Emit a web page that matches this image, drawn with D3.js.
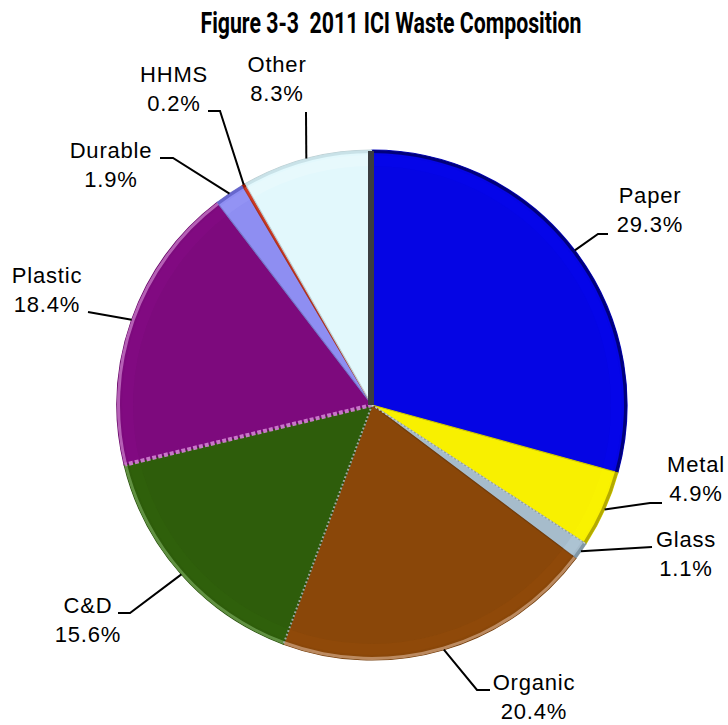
<!DOCTYPE html>
<html>
<head>
<meta charset="utf-8">
<script src="https://cdn.jsdelivr.net/npm/d3@7/dist/d3.min.js"></script>
<style>
  html, body { margin: 0; padding: 0; background: #fff; }
  svg { display: block; }
</style>
</head>
<body>
<script>
// ---- data ----
const categories = ["Paper", "Metal", "Glass", "Organic", "C&D", "Plastic", "Durable", "HHMS", "Other"];
const values = [29.3, 4.9, 1.1, 20.4, 15.6, 18.4, 1.9, 0.2, 8.3];
const valueLabels = ["29.3%", "4.9%", "1.1%", "20.4%", "15.6%", "18.4%", "1.9%", "0.2%", "8.3%"];
const title = "Figure 3-3\u00A0\u00A02011 ICI Waste Composition";

// ---- styles ----
const palette = ["#0505E4", "#F8F000", "#A6BCCB", "#8A4709", "#2E5D0B", "#7D0A7D", "#8E8EF2", "#D03A22", "#E2F8FC"];
const rimPalette = ["#00006A", "#A89E00", "#7A90A0", "#C49670", "#6A9A4C", "#C070C0", "#6060C8", "#901800", "#C4DEE4"];

// ---- layout (label text anchor: centre x, first baseline; leader elbow/end points) ----
const labelLayout = [
  { x: 650, y: 203, leader: [[598, 234], [608, 234]] },
  { x: 696, y: 472, leader: [[650, 503], [662, 503]] },
  { x: 686, y: 547, leader: [[652, 547]] },
  { x: 534, y: 690, leader: [[477, 690], [490, 690]] },
  { x: 88,  y: 613, leader: [[130, 613], [118, 613]] },
  { x: 47,  y: 283, leader: [[88, 312]] },
  { x: 111, y: 158, leader: [[173, 158], [160, 158]] },
  { x: 174, y: 82,  leader: [[220, 111], [208, 111]] },
  { x: 277, y: 72,  leader: [[306, 112]] }
];

const W = 728, H = 725;
const cx = 372, cy = 405, R = 255;

const svg = d3.select("body").append("svg").attr("width", W).attr("height", H);

const data = categories.map((c, i) => ({ cat: c, value: values[i], label: valueLabels[i], i }));

const pie = d3.pie().value(d => d.value).sort(null).startAngle(0).endAngle(2 * Math.PI);
const arcs = pie(data);

const arcGen = d3.arc().innerRadius(0).outerRadius(R);
const rimArc = d3.arc().innerRadius(R - 3).outerRadius(R);
const hiArc = d3.arc().innerRadius(R - 16).outerRadius(R - 5);

const color = d3.scaleOrdinal().domain(categories).range(palette);
const rimColor = d3.scaleOrdinal().domain(categories).range(rimPalette);

const g = svg.append("g").attr("transform", `translate(${cx},${cy})`);

g.selectAll("path.slice").data(arcs).enter().append("path")
  .attr("class", "slice")
  .attr("d", arcGen)
  .attr("fill", d => color(d.data.cat))
  .attr("stroke", d => d3.color(color(d.data.cat)).darker(0.5))
  .attr("stroke-width", 1.2);

// soft inner band (bevel hint) along the outer rim
g.selectAll("path.hi").data(arcs).enter().append("path")
  .attr("class", "hi")
  .attr("d", hiArc)
  .attr("fill", d => d3.color(color(d.data.cat)).brighter(0.5))
  .attr("opacity", 0.18);

g.selectAll("path.rim").data(arcs).enter().append("path")
  .attr("class", "rim")
  .attr("d", rimArc)
  .attr("fill", d => rimColor(d.data.cat))
  .attr("opacity", 0.85);

// bevelled edges along some slice boundaries
function radial(angle, stroke, width, dash) {
  g.append("line")
    .attr("x1", 0).attr("y1", 0)
    .attr("x2", Math.sin(angle) * (R - 1)).attr("y2", -Math.cos(angle) * (R - 1))
    .attr("stroke", stroke).attr("stroke-width", width)
    .attr("stroke-dasharray", dash || null);
}
const idx = c => categories.indexOf(c);
radial(arcs[idx("Plastic")].startAngle, "#C878C8", 4, "4,2");
radial(arcs[idx("C&D")].startAngle, "#9AA8A0", 2, "2,2");
radial(arcs[idx("Glass")].startAngle, "#C8D0C8", 1.5, "2,2");

// dark edge on the start radius of the first slice
const a0 = arcs[0].startAngle;
g.append("line")
  .attr("x1", 0).attr("y1", 0)
  .attr("x2", Math.sin(a0) * (R - 1)).attr("y2", -Math.cos(a0) * (R - 1))
  .attr("stroke", "#3a3d40").attr("stroke-width", 6)
  .attr("transform", "translate(-1,0)");

// ---- labels ----
const lbl = svg.append("g").attr("font-family", "'Liberation Sans', Arial, sans-serif")
  .attr("font-size", 22).attr("fill", "#000");

arcs.forEach((d, i) => {
  const L = labelLayout[i];
  const mid = (d.startAngle + d.endAngle) / 2;
  const start = [cx + Math.sin(mid) * R, cy - Math.cos(mid) * R];
  const pts = [start].concat(L.leader);
  svg.append("path")
    .attr("d", d3.line()(pts))
    .attr("fill", "none").attr("stroke", "#000").attr("stroke-width", 2);
  const t = lbl.append("text").attr("text-anchor", "middle").attr("letter-spacing", 0.8);
  t.append("tspan").attr("x", L.x).attr("y", L.y).text(d.data.cat);
  t.append("tspan").attr("x", L.x).attr("y", L.y + 29).text(d.data.label);
});

// ---- title ----
svg.append("text")
  .attr("x", 391).attr("y", 33)
  .attr("text-anchor", "middle")
  .attr("font-family", "'Liberation Sans Narrow', 'Roboto', 'Liberation Sans', sans-serif")
  .attr("font-weight", "bold")
  .attr("font-size", 29)
  .attr("textLength", 381)
  .attr("lengthAdjust", "spacingAndGlyphs")
  .text(title);
</script>
</body>
</html>
